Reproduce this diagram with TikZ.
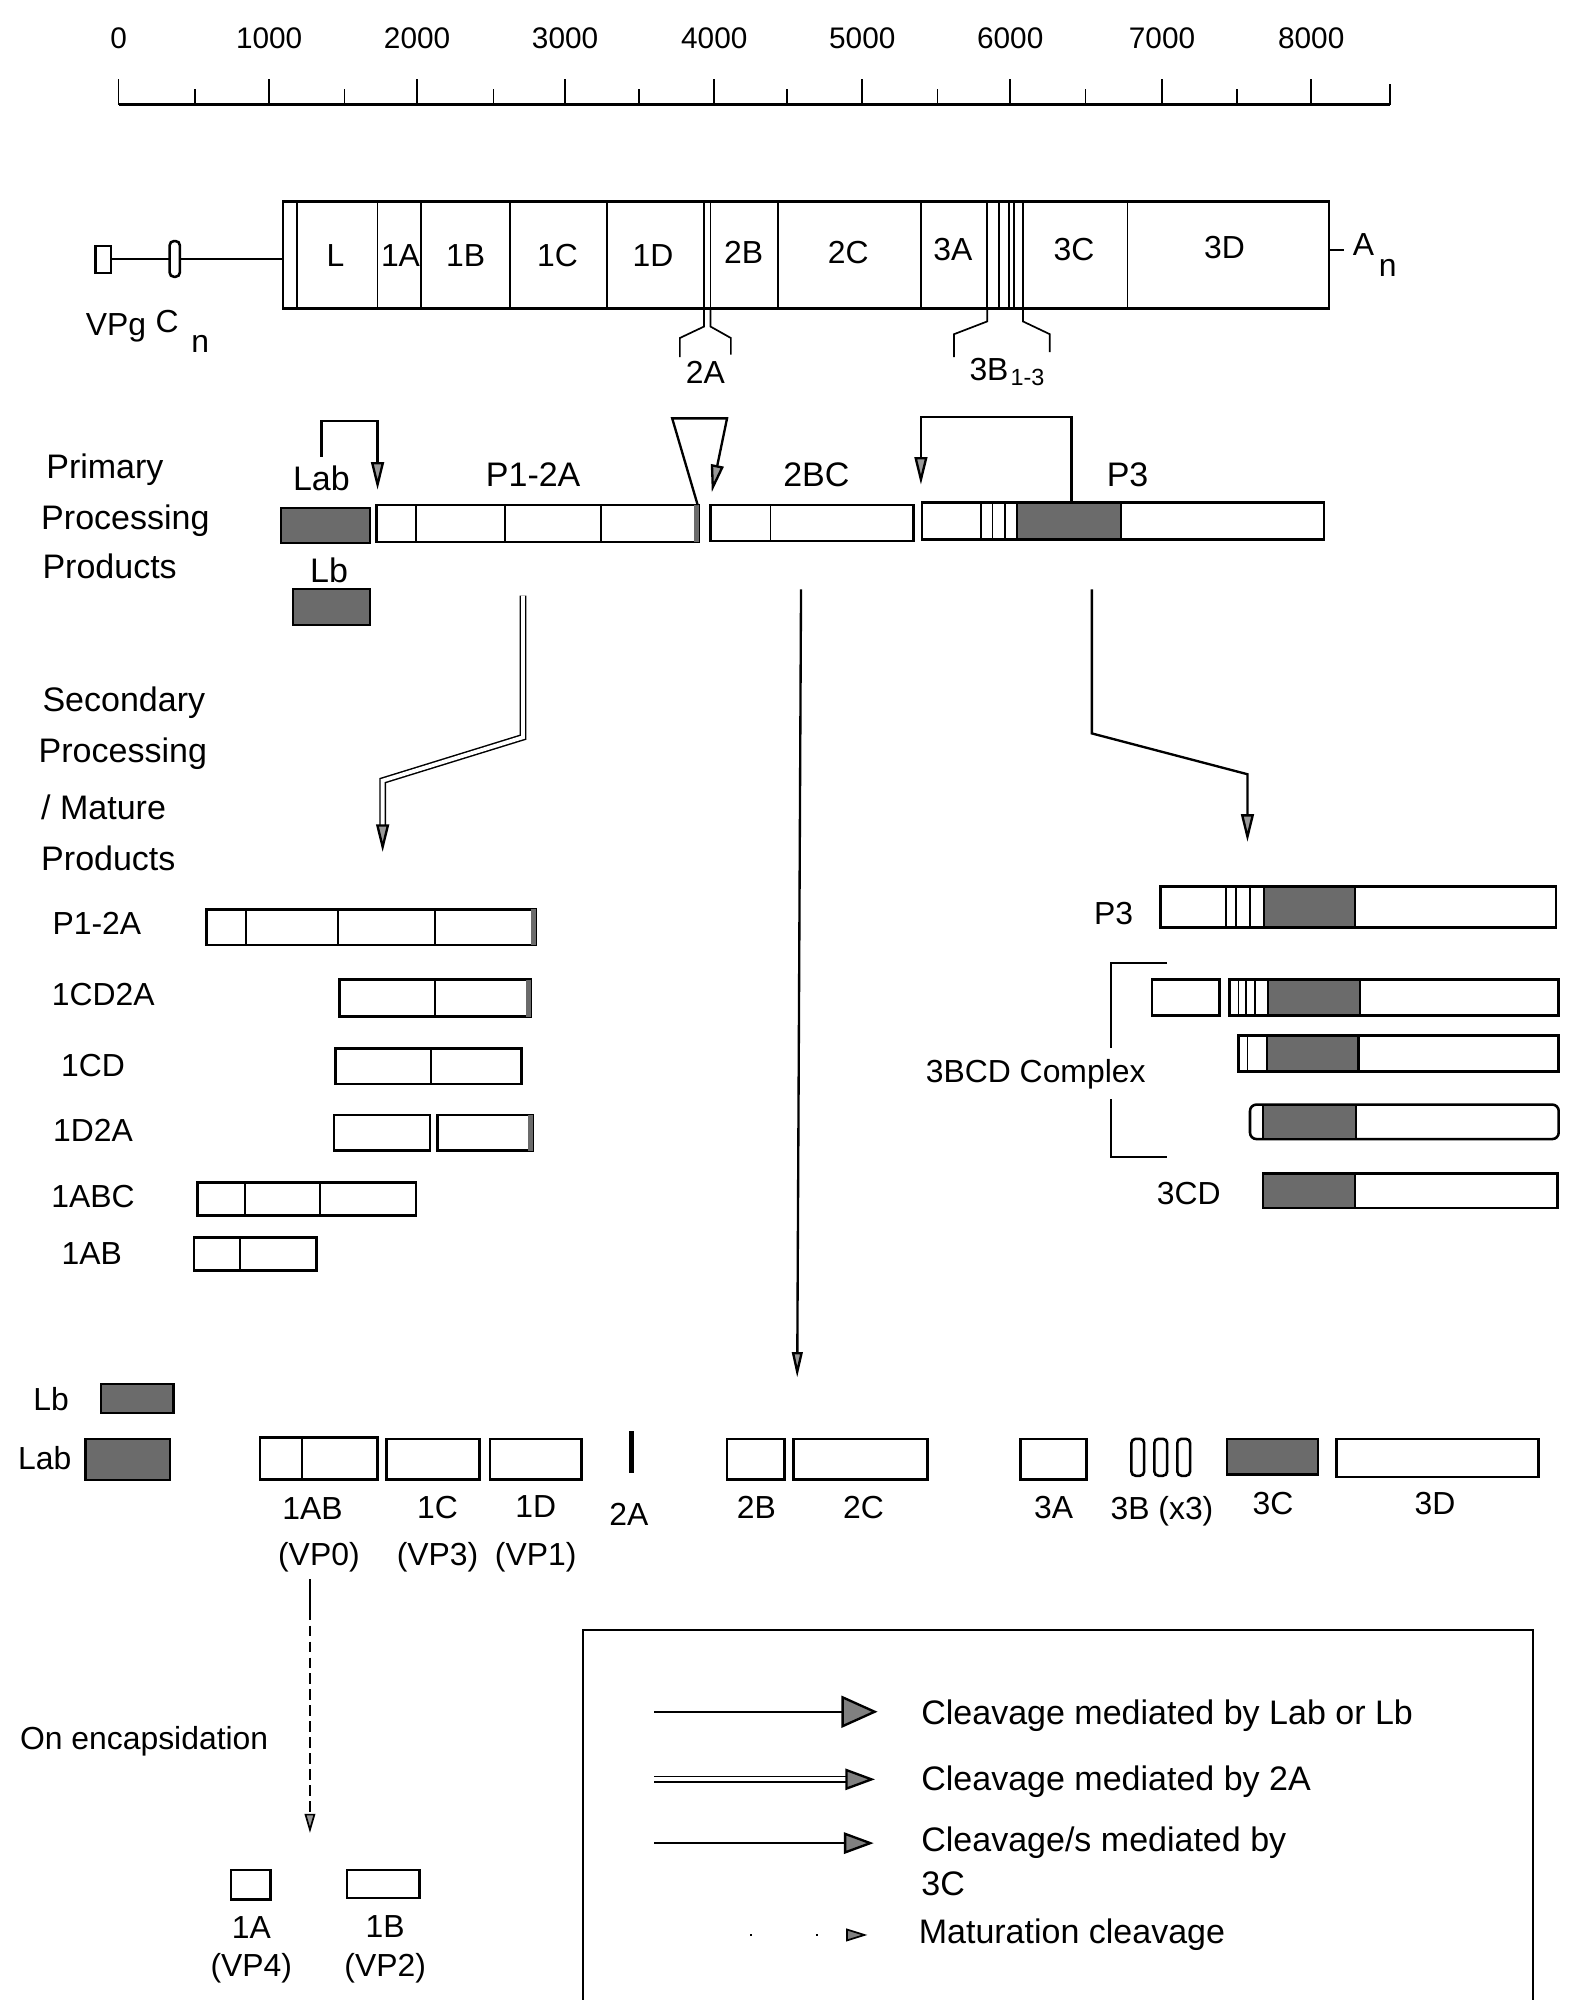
\documentclass[tikz,border=0pt]{standalone}
\usepackage{fontspec}
\setmainfont{Liberation Sans}
\usetikzlibrary{arrows.meta}
\definecolor{shadegray}{gray}{0.42}
\begin{document}
\begin{tikzpicture}[x=0.6pt,y=-0.6pt,
  ol/.style={draw=black,line width=1.2pt},
  thinl/.style={draw=black,line width=0.8pt},
  shd/.style={draw=black,line width=1.0pt,fill=shadegray},
  t16/.style={inner sep=0pt,font=\fontsize{16}{19}\selectfont},
  t15/.style={inner sep=0pt,font=\fontsize{15}{18}\selectfont},
  t14/.style={inner sep=0pt,font=\fontsize{14}{17}\selectfont},
  t11/.style={inner sep=0pt,font=\fontsize{11}{13}\selectfont},
  conn/.style={draw=black,line width=1.1pt},
  tipA/.style={-{Triangle[length=13pt,width=6pt,fill=black!40]}},
  tipB/.style={-{Triangle[length=12pt,width=5pt,fill=black!40]}},
  dbl/.style={draw=black,double=white,double distance=1.8pt,line width=0.7pt},
]
\useasboundingbox (0,0) rectangle (1232,1568);
\fill[white] (0,0) rectangle (1232,1568);

% ---------- ruler ----------
\draw[ol] (93,82) -- (1090,82);
\foreach \i/\x in {0/93,1000/211,2000/327,3000/443,4000/560,5000/676,6000/792,7000/911,8000/1028}{
  \draw[thinl] (\x,82) -- (\x,62);
  \node[t14] (r\i) at (\x,30) {\i};
}
\foreach \x in {153,270,387,501,617,735,851,970}{\draw[thinl] (\x,82) -- (\x,70);}
\draw[thinl] (1090,82) -- (1090,66);

% ---------- genome ----------
\draw[ol] (75,193) rectangle (87,214);
\draw[thinl] (87,203) -- (133,203);
\draw[ol,rounded corners=2pt] (133,189) rectangle (141,217);
\draw[thinl] (141,203) -- (222,203);
\draw[ol] (222,158) rectangle (1042,242);
\foreach \x in {233,296,330,400,476,552,557,610,722,774,783,791,795,802,884}{\draw[thinl] (\x,158) -- (\x,242);}
\node[t15] (gL) at (263,200) {L};
\node[t15] (g1A) at (314,200) {1A};
\node[t15] (g1B) at (365,200) {1B};
\node[t15] (g1C) at (437,200) {1C};
\node[t15] (g1D) at (512,200) {1D};
\node[t15] (g2B) at (583,198) {2B};
\node[t15] (g2C) at (665,198) {2C};
\node[t15] (g3A) at (747,196) {3A};
\node[t15] (g3C) at (842,196) {3C};
\node[t15] (g3D) at (960,194) {3D};
\node[t15] (vpg) at (91,257) {VPg};
\node[t15] (cC) at (131,252) {C};
\node[t15] (cn) at (157,270) {n};
\draw[thinl] (1042,196) -- (1054,196);
\node[t15] (aA) at (1069,192) {A};
\node[t15] (an) at (1088,210) {n};
% 2A bracket
\draw[thinl] (552,242) -- (552,256) -- (533,265) -- (533,280);
\draw[thinl] (557,242) -- (557,256) -- (573,265) -- (573,278);
\node[t15] (l2A) at (553,292) {2A};
% 3B bracket
\draw[thinl] (774,242) -- (774,252) -- (748,262) -- (748,280);
\draw[thinl] (802,242) -- (802,252) -- (823,262) -- (823,276);
\node[t15,anchor=east] (l3B) at (791,290) {3B};
\node[t11,anchor=west] (l3Bs) at (792,296) {1-3};

% ---------- primary products ----------
\node[t16,anchor=west] (prim1) at (36,368) {Primary};
\node[t16,anchor=west] (prim2) at (32,408) {Processing};
\node[t16,anchor=west] (prim3) at (33,444) {Products};
\node[t16] (labP) at (252,375) {Lab};
\node[t16] (p12aP) at (418,372) {P1-2A};
\node[t16] (bcP) at (640,372) {2BC};
\node[t16] (p3P) at (884,372) {P3};
\node[t16] (lbP) at (258,447) {Lb};
\draw[shd] (220,398) rectangle (290,426);
\draw[shd] (230,462) rectangle (290,490);
\draw[ol] (295,396) rectangle (548,425);
\foreach \x in {326,396,471}{\draw[thinl] (\x,396) -- (\x,425);}
\fill[shadegray] (544,396) rectangle (548,425);
\draw[ol] (557,396) rectangle (716,424);
\draw[thinl] (604,396) -- (604,424);
\draw[ol] (723,394) rectangle (1038,423);
\foreach \x in {769,778,788}{\draw[thinl] (\x,394) -- (\x,423);}
\draw[shd] (797,394) rectangle (879,423);

% primary cleavage arrows
\coordinate (labA0) at (252,358);
\coordinate (labA1) at (252,330);
\coordinate (labA2) at (296,330);
\coordinate (labA3) at (296,384);
\draw[conn,tipA] (labA0) -- (labA1) -- (labA2) -- (labA3);
\coordinate (twoA0) at (547,396);
\coordinate (twoA1) at (527,328);
\coordinate (twoA2) at (570,328);
\coordinate (twoA3) at (558,386);
\draw[conn,tipA] (twoA0) -- (twoA1) -- (twoA2) -- (twoA3);
\coordinate (tcA0) at (840,394);
\coordinate (tcA1) at (840,327);
\coordinate (tcA2) at (722,327);
\coordinate (tcA3) at (722,380);
\draw[conn,tipA] (tcA0) -- (tcA1) -- (tcA2) -- (tcA3);

% ---------- secondary ----------
\node[t16,anchor=west] (sec1) at (33,551) {Secondary};
\node[t16,anchor=west] (sec2) at (30,591) {Processing};
\node[t16,anchor=west] (sec3) at (32,633) {/ Mature};
\node[t16,anchor=west] (sec4) at (32,673) {Products};

% P1-2A -> secondary (2A mediated, double)
\coordinate (dA0) at (410,467);
\coordinate (dA1) at (410,578);
\coordinate (dA2) at (300,612);
\coordinate (dA3) at (300,650);
\coordinate (dA4) at (300,668);
\draw[dbl] (dA0) -- (dA1) -- (dA2) -- (dA3);
\draw[conn,tipA] (dA3) -- (dA4);
% 2BC -> mature
\coordinate (bcA0) at (628,462);
\coordinate (bcA1) at (625,1080);
\draw[conn,tipB] (bcA0) -- (bcA1);
% P3 -> secondary
\coordinate (p3A0) at (856,462);
\coordinate (p3A1) at (856,575);
\coordinate (p3A2) at (978,607);
\coordinate (p3A3) at (978,660);
\draw[conn,tipA] (p3A0) -- (p3A1) -- (p3A2) -- (p3A3);

% left secondary products
\node[t15] (sP12A) at (76,724) {P1-2A};
\draw[ol] (162,713) rectangle (420,741);
\foreach \x in {193,265,341}{\draw[thinl] (\x,713) -- (\x,741);}
\fill[shadegray] (416,713) rectangle (420,741);

\node[t15] (s1CD2A) at (81,780) {1CD2A};
\draw[ol] (266,768) rectangle (416,797);
\draw[thinl] (341,768) -- (341,797);
\fill[shadegray] (412,768) rectangle (416,797);

\node[t15] (s1CD) at (73,835) {1CD};
\draw[ol] (263,822) rectangle (409,850);
\draw[thinl] (338,822) -- (338,850);

\node[t15] (s1D2A) at (73,886) {1D2A};
\draw[ol] (262,874) rectangle (337,902);
\draw[ol] (343,874) rectangle (418,902);
\fill[shadegray] (414,874) rectangle (418,902);

\node[t15] (s1ABC) at (73,938) {1ABC};
\draw[ol] (155,927) rectangle (326,953);
\foreach \x in {192,251}{\draw[thinl] (\x,927) -- (\x,953);}

\node[t15] (s1AB) at (72,983) {1AB};
\draw[ol] (152,970) rectangle (248,996);
\draw[thinl] (188,970) -- (188,996);

% right secondary products
\node[t15] (sP3) at (873,716) {P3};
\draw[ol] (910,695) rectangle (1220,727);
\foreach \x in {961,969,980}{\draw[thinl] (\x,695) -- (\x,727);}
\draw[shd] (991,695) rectangle (1062,727);

\draw[ol] (903,768) rectangle (956,796);
\draw[ol] (964,768) rectangle (1222,796);
\foreach \x in {971,977,984}{\draw[thinl] (\x,768) -- (\x,796);}
\draw[shd] (994,768) rectangle (1066,796);

\draw[ol] (971,812) rectangle (1222,840);
\draw[thinl] (978,812) -- (978,840);
\draw[shd] (993,812) rectangle (1065,840);

\draw[ol,rounded corners=3pt] (980,866) rectangle (1222,893);
\draw[shd] (990,866) rectangle (1063,893);

\node[t15] (s3CD) at (932,936) {3CD};
\draw[ol] (990,920) rectangle (1221,947);
\draw[shd] (990,920) rectangle (1062,947);

\draw[thinl] (915,755) -- (871,755) -- (871,822);
\draw[thinl] (871,862) -- (871,907) -- (915,907);
\node[t15] (s3BCD) at (812,842) {3BCD Complex};

% ---------- mature products ----------
\node[t15] (mLb) at (40,1097) {Lb};
\draw[shd] (79,1085) rectangle (136,1108);
\node[t15] (mLab) at (35,1143) {Lab};
\draw[shd] (67,1128) rectangle (133,1160);

\draw[ol] (204,1127) rectangle (296,1160);
\draw[thinl] (237,1127) -- (237,1160);
\node[t15] (m1AB) at (245,1183) {1AB};
\node[t15] (mVP0) at (250,1221) {(VP0)};

\draw[ol] (303,1128) rectangle (376,1160);
\node[t15] (m1C) at (343,1182) {1C};
\node[t15] (mVP3) at (343,1221) {(VP3)};

\draw[ol] (384,1128) rectangle (456,1160);
\node[t15] (m1D) at (420,1181) {1D};
\node[t15] (mVP1) at (420,1221) {(VP1)};

\draw[draw=black,line width=2.6pt] (495,1122) -- (495,1155);
\node[t15] (m2A) at (493,1187) {2A};

\draw[ol] (570,1128) rectangle (615,1160);
\node[t15] (m2B) at (593,1182) {2B};
\draw[ol] (622,1128) rectangle (727,1160);
\node[t15] (m2C) at (677,1182) {2C};

\draw[ol] (800,1128) rectangle (852,1160);
\node[t15] (m3A) at (826,1182) {3A};
\foreach \x in {887,905,923}{\draw[ol,rounded corners=2pt] (\x,1128) rectangle ++(10,29);}
\node[t15] (m3B) at (911,1185) {3B (x3)};
\draw[shd] (962,1128) rectangle (1033,1156);
\node[t15] (m3C) at (998,1179) {3C};
\draw[ol] (1048,1128) rectangle (1206,1158);
\node[t15] (m3D) at (1125,1179) {3D};

% maturation cleavage
\coordinate (mat0) at (243,1238);
\coordinate (mat1) at (243,1262);
\coordinate (mat2) at (243,1437);
\draw[thinl] (mat0) -- (mat1);
\draw[thinl,dash pattern=on 5pt off 2.5pt,-{Triangle[length=9pt,width=5pt,fill=black!40]}] (mat1) -- (mat2);
\node[t15] (encap) at (113,1365) {On encapsidation};

\draw[ol] (181,1466) rectangle (212,1489);
\node[t15] (m1A) at (197,1511) {1A};
\node[t15] (mVP4) at (197,1543) {(VP4)};
\draw[ol] (272,1466) rectangle (329,1488);
\node[t15] (m1Bb) at (302,1510) {1B};
\node[t15] (mVP2) at (302,1543) {(VP2)};

% ---------- legend ----------
\draw[ol] (457,1568) -- (457,1278) -- (1202,1278) -- (1202,1568);
\coordinate (lg1a) at (513,1342);
\coordinate (lg1b) at (688,1342);
\draw[conn,-{Triangle[length=17pt,width=15pt,fill=black!50]}] (lg1a) -- (lg1b);
\node[t16,anchor=west] (lgt1) at (722,1345) {Cleavage mediated by Lab or Lb};
\coordinate (lg2a) at (513,1395);
\coordinate (lg2b) at (665,1395);
\coordinate (lg2c) at (686,1395);
\draw[dbl] (lg2a) -- (lg2b);
\draw[conn,-{Triangle[length=14pt,width=10pt,fill=black!50]}] (lg2b) -- (lg2c);
\node[t16,anchor=west] (lgt2) at (722,1397) {Cleavage mediated by 2A};
\coordinate (lg3a) at (513,1445);
\coordinate (lg3b) at (685,1445);
\draw[conn,-{Triangle[length=14pt,width=10pt,fill=black!50]}] (lg3a) -- (lg3b);
\node[t16,anchor=west] (lgt3) at (722,1445) {Cleavage/s mediated by};
\node[t16,anchor=west] (lgt3b) at (722,1477) {3C};
\coordinate (lg4a) at (588,1517);
\coordinate (lg4b) at (680,1517);
\draw[thinl,dash pattern=on 1pt off 30pt,-{Triangle[length=10pt,width=6pt,fill=black!50]}] (lg4a) -- (lg4b);
\node[t16,anchor=west] (lgt4) at (720,1517) {Maturation cleavage};
\end{tikzpicture}
\end{document}
